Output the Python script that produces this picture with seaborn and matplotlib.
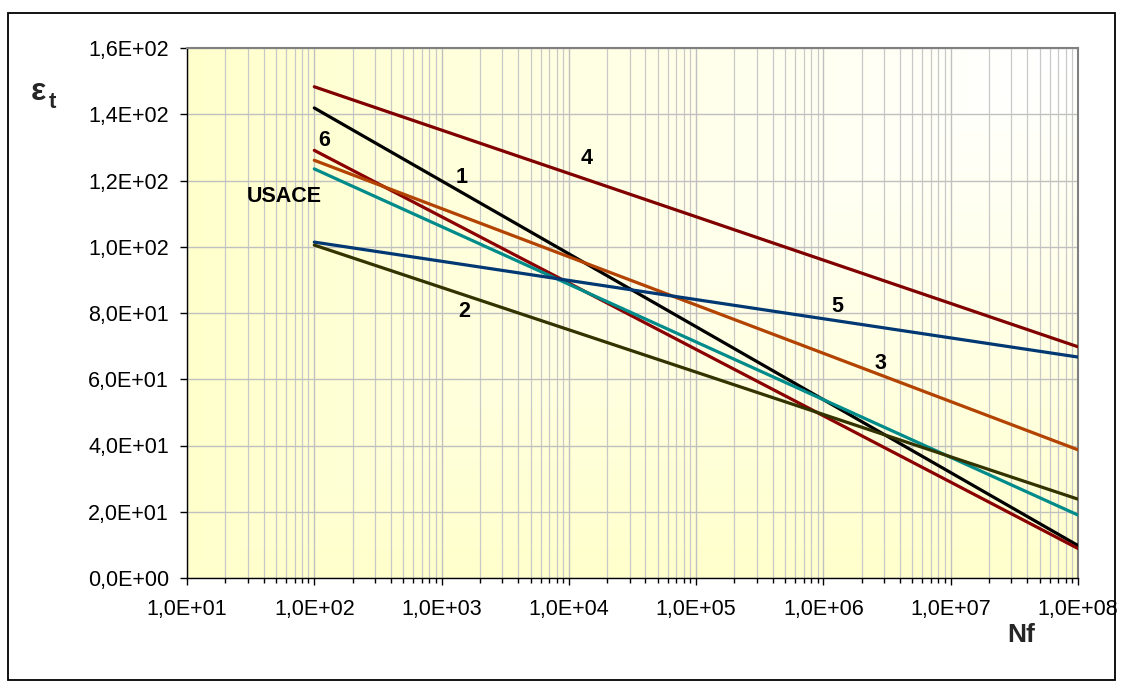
import numpy as np
import pandas as pd
import matplotlib
matplotlib.use("Agg")
import matplotlib.pyplot as plt
from matplotlib.ticker import FuncFormatter, LogLocator, MultipleLocator, NullFormatter
from matplotlib.patches import Rectangle
from matplotlib.colors import to_rgb
import seaborn as sns

# Fatigue laws: tensile strain (µdef) at the start and end of the cycle range
cycles = [1e2, 1e8]
law_names = ["4", "1", "6", "3", "USACE", "5", "2"]
eps_4 = [148.3, 69.8]
eps_1 = [141.9, 9.8]
eps_6 = [129.1, 8.9]
eps_3 = [126.1, 38.7]
eps_usace = [123.5, 19.0]
eps_5 = [101.4, 66.7]
eps_2 = [100.5, 23.8]
series = [eps_4, eps_1, eps_6, eps_3, eps_usace, eps_5, eps_2]

colors = {
    "4": "#800000",
    "1": "#000000",
    "6": "#8B0000",
    "3": "#B24300",
    "USACE": "#008B8B",
    "5": "#003873",
    "2": "#333300",
}

df = pd.DataFrame(
    [(name, n, e) for name, vals in zip(law_names, series) for n, e in zip(cycles, vals)],
    columns=["law", "Nf", "eps"],
)

sns.set_theme(style="white")
plt.rcParams["font.family"] = ["Liberation Sans", "DejaVu Sans"]

W, H = 1123, 688
fig = plt.figure(figsize=(W / 100, H / 100), dpi=100)
ax = fig.add_axes([187 / W, 1 - 578 / H, (1078 - 187) / W, (578 - 48) / H])

# Plot-area fill: pale yellow fading to white toward the upper-right corner
ny, nx = 200, 400
xf = np.linspace(0, 1, nx)[None, :]
yf = np.linspace(1, 0, ny)[:, None]
t = np.clip(np.minimum(xf * 1.05, yf * 1.05), 0, 1)
yellow = np.array(to_rgb("#FFFFCC"))
white = np.ones(3)
img = yellow[None, None, :] * (1 - t[..., None]) + white[None, None, :] * t[..., None]
ax.imshow(img, extent=[0, 1, 0, 1], transform=ax.transAxes, aspect="auto", zorder=0)

sns.lineplot(data=df, x="Nf", y="eps", hue="law", palette=colors, hue_order=law_names,
             legend=False, linewidth=2.3, ax=ax, zorder=3)

ax.set_xscale("log")
ax.set_xlim(1e1, 1e8)
ax.set_ylim(0, 160)
ax.yaxis.set_major_locator(MultipleLocator(20))
ax.xaxis.set_major_locator(LogLocator(base=10, numticks=20))
ax.xaxis.set_minor_locator(LogLocator(base=10, subs=np.arange(2, 10), numticks=200))
ax.xaxis.set_minor_formatter(NullFormatter())

sci = FuncFormatter(lambda v, p: f"{v:.1E}".replace(".", ","))
ax.xaxis.set_major_formatter(sci)
ax.yaxis.set_major_formatter(sci)

ax.set_axisbelow(True)
ax.grid(True, which="major", axis="both", color="#C0C0C0", linewidth=1.0)
ax.grid(True, which="minor", axis="x", color="#C8C8C8", linewidth=0.9)

ax.tick_params(axis="both", which="major", direction="out", length=5, width=1,
               color="black", labelsize=15.5, labelcolor="black")
ax.tick_params(axis="x", which="major", pad=10, bottom=True)
ax.tick_params(axis="y", which="major", pad=8, left=True)
ax.tick_params(axis="x", which="minor", direction="out", length=3.5, width=1,
               color="black", bottom=True)

ax.set_xlabel("")
ax.set_ylabel("")
for side in ("left", "bottom"):
    ax.spines[side].set_color("black")
    ax.spines[side].set_linewidth(1.0)
for side in ("top", "right"):
    ax.spines[side].set_color("#808080")
    ax.spines[side].set_linewidth(1.5)

# Curve labels
label_pos = {
    "6": (120, 132.2),
    "USACE": (58, 115.3),
    "1": (1450, 121.0),
    "4": (13800, 126.5),
    "2": (1500, 80.6),
    "5": (1.29e6, 82.1),
    "3": (2.8e6, 64.9),
}
for name, (x, y) in label_pos.items():
    ax.text(x, y, name, fontsize=15.5, fontweight="bold", color="black",
            ha="center", va="center", zorder=5)

# Axis titles
fig.text(38 / W, 1 - 92 / H, "ε", fontsize=23, fontweight="bold", ha="center", va="center")
fig.text(52 / W, 1 - 102 / H, "t", fontsize=16, fontweight="bold", ha="center", va="center")
fig.text(1021 / W, 1 - 635 / H, "Nf", fontsize=19, fontweight="bold", ha="center", va="center")

# Outer chart border
fig.patches.append(Rectangle((8 / W, 1 - 680 / H), (1115 - 8) / W, (680 - 13) / H,
                             transform=fig.transFigure, fill=False,
                             edgecolor="black", linewidth=1.3))

fig.savefig("out.png", dpi=100)
